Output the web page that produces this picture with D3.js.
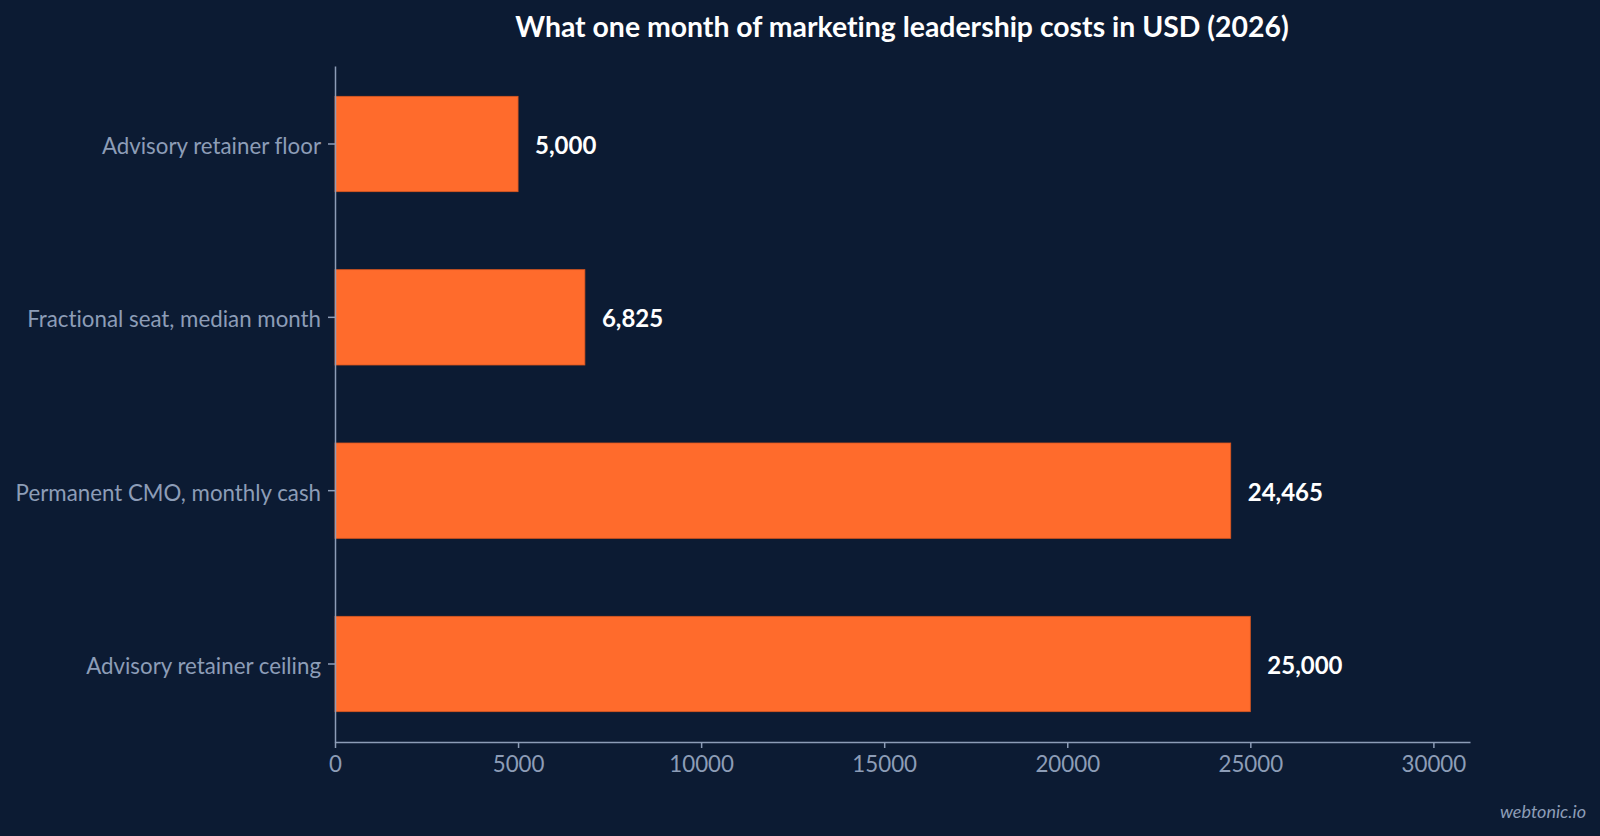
<!DOCTYPE html>
<html>
<head>
<meta charset="utf-8">
<script src="https://cdn.jsdelivr.net/npm/d3@7"></script>
<style>
  html, body { margin: 0; padding: 0; background: #0c1b33; }
  svg { display: block; }
  text { font-variant-ligatures: none; font-feature-settings: "liga" 0; }
  .tick text { font-family: Lato, "Noto Sans", sans-serif; }
</style>
</head>
<body>
<div id="chart"></div>
<script>
// data
var categories = ["Advisory retainer floor", "Fractional seat, median month", "Permanent CMO, monthly cash", "Advisory retainer ceiling"];
var values = [5000, 6825, 24465, 25000];
var xTicks = [0, 5000, 10000, 15000, 20000, 25000, 30000];

var data = categories.map(function(c, i) { return { name: c, value: values[i] }; });

// set the dimensions and margins of the graph
var W = 1600, H = 836;
var margin = { top: 66, right: 130, bottom: 94, left: 335 },
    width = W - margin.left - margin.right,
    height = H - margin.top - margin.bottom;

var root = d3.select("#chart")
    .append("svg")
    .attr("width", W)
    .attr("height", H);

root.append("rect")
    .attr("width", W)
    .attr("height", H)
    .attr("fill", "#0c1b33");

// title
root.append("text")
    .attr("x", 902)
    .attr("y", 37)
    .attr("text-anchor", "middle")
    .attr("fill", "#ffffff")
    .style("font-family", "Lato, 'Noto Sans', sans-serif")
    .style("font-weight", "700")
    .style("font-size", "28.4px")
    .text("What one month of marketing leadership costs in USD (2026)");

var svg = root.append("g")
    .attr("transform", "translate(" + margin.left + "," + margin.top + ")");

var x = d3.scaleLinear()
    .domain([0, 31000])
    .range([0, width]);

var y = d3.scaleBand()
    .domain(categories)
    .range([0, height])
    .paddingInner(0.45)
    .paddingOuter(0.175);

// bars
svg.selectAll("rect.bar")
    .data(data)
    .enter()
    .append("rect")
    .attr("class", "bar")
    .attr("x", x(0))
    .attr("y", function(d) { return y(d.name); })
    .attr("width", function(d) { return x(d.value) - x(0); })
    .attr("height", y.bandwidth())
    .attr("fill", "#ff6b2c")
    .attr("stroke", "#d9561f")
    .attr("stroke-width", 0.8);

// value labels
var f = d3.format(",");
svg.selectAll(".label")
    .data(data)
    .enter()
    .append("text")
    .attr("class", "label")
    .attr("x", function(d) { return x(d.value) + 17; })
    .attr("y", function(d) { return y(d.name) + y.bandwidth() / 2; })
    .attr("dy", "0.42em")
    .attr("fill", "#ffffff")
    .style("font-family", "Lato, 'Noto Sans', sans-serif")
    .style("font-weight", "700")
    .style("font-size", "24px")
    .text(function(d) { return f(d.value); });

// axes
var axisColor = "#8d9db7";

var xAxis = svg.append("g")
    .attr("transform", "translate(0," + height + ")")
    .call(d3.axisBottom(x).tickValues(xTicks).tickFormat(d3.format("d")).tickSize(6).tickSizeOuter(0).tickPadding(8));

var yAxis = svg.append("g")
    .call(d3.axisLeft(y).tickSize(7).tickSizeOuter(0).tickPadding(7));

[xAxis, yAxis].forEach(function(a) {
    a.select(".domain").attr("stroke", axisColor).attr("stroke-width", 1.5);
    a.selectAll(".tick line").attr("stroke", axisColor).attr("stroke-width", 1.5);
    a.selectAll(".tick text")
        .attr("fill", axisColor)
        .style("font-size", "22.3px");
});
yAxis.selectAll(".tick text").attr("dy", "0.45em");

// watermark
root.append("text")
    .attr("x", 1586)
    .attr("y", 818)
    .attr("text-anchor", "end")
    .attr("fill", "#8d9db7")
    .style("font-family", "Lato, 'Noto Sans', sans-serif")
    .style("font-style", "italic")
    .style("font-size", "18px")
    .text("webtonic.io");
</script>
</body>
</html>
